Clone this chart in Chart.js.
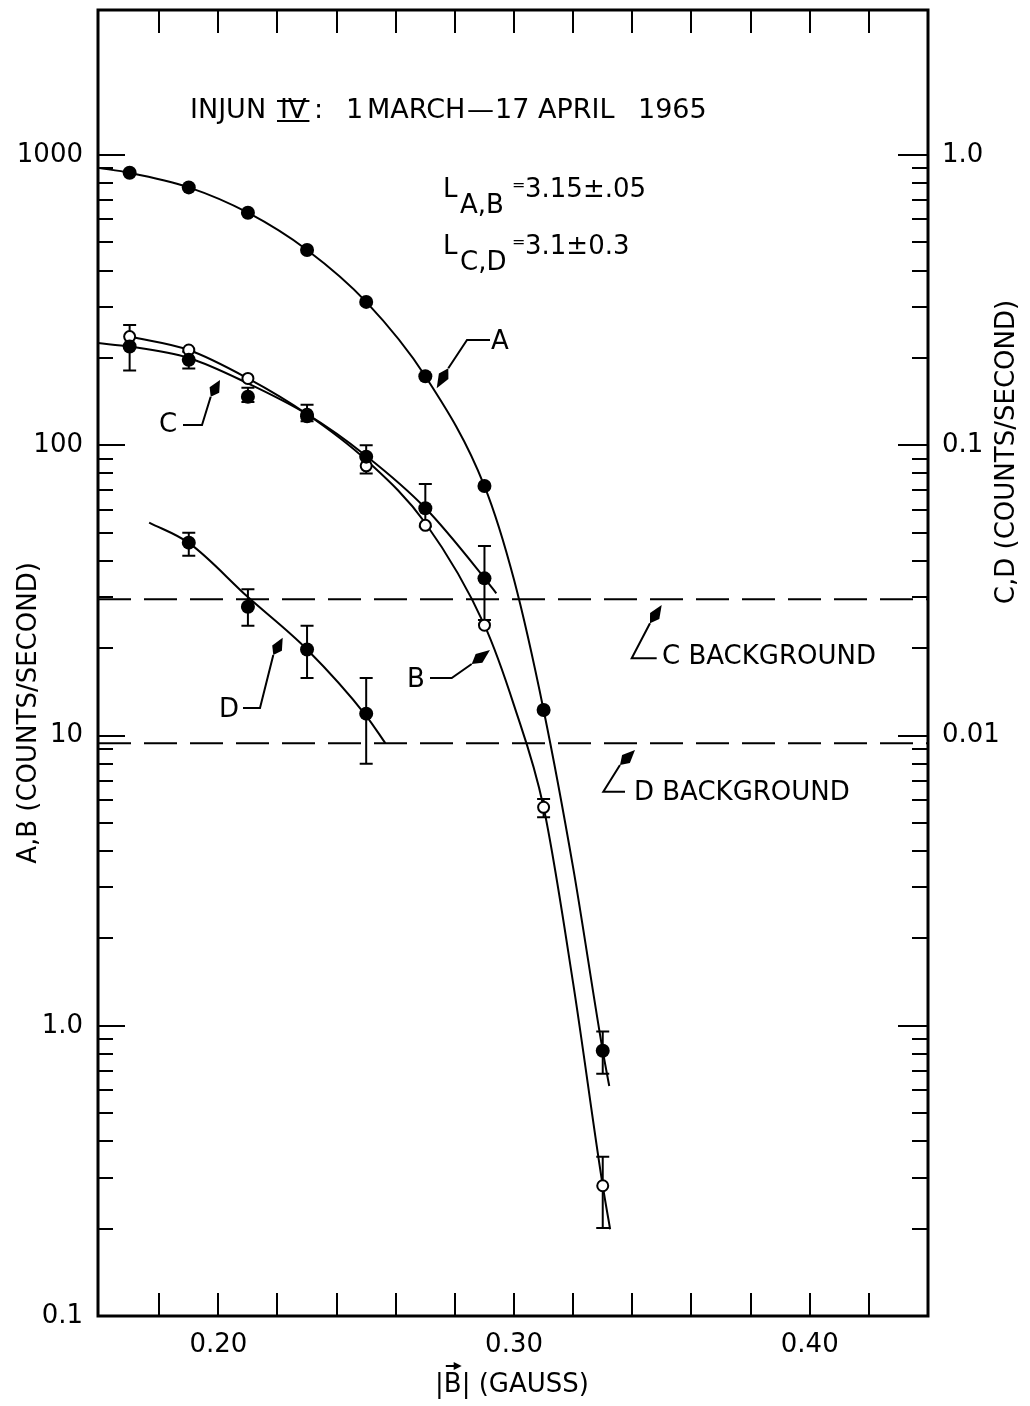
<!DOCTYPE html>
<html>
<head>
<meta charset="utf-8">
<script src="https://cdn.jsdelivr.net/npm/chart.js@4.4.1/dist/chart.umd.min.js"></script>
<style>
  html, body { margin: 0; padding: 0; background: #fff; }
  #wrap { width: 1030px; height: 1406px; }
</style>
</head>
<body>
<div id="wrap"><canvas id="chart" width="1030" height="1406"></canvas></div>
<script>
// |B| (gauss) of the measured points
const bField = [0.17, 0.19, 0.21, 0.23, 0.25, 0.27, 0.29, 0.31, 0.33];
const countsA = [869, 774, 633, 471, 312, 173, 72.4, 12.25, 0.82];
const countsB = [237, 213, 170, 128, 85, 53, 24.0, 5.66, 0.281];
const errLowA = [null, null, null, null, null, null, null, null, 0.683];
const errHighA = [null, null, null, null, null, null, null, null, 0.955];
const errLowB = [null, null, null, null, null, null, null, 5.23, 0.201];
const errHighB = [null, null, null, null, null, null, null, 6.04, 0.354];

// C and D are on the right hand scale
const bFieldC = [0.17, 0.19, 0.21, 0.23, 0.25, 0.27, 0.29];
const rateC = [0.219, 0.197, 0.147, 0.126, 0.0914, 0.0607, 0.0348];
const errLowC = [0.181, 0.184, 0.141, 0.121, 0.080, 0.0525, 0.025];
const errHighC = [0.260, 0.210, 0.158, 0.138, 0.100, 0.0736, 0.045];
const bFieldD = [0.19, 0.21, 0.23, 0.25];
const rateD = [0.0462, 0.0278, 0.0198, 0.0119];
const errLowD = [0.0416, 0.0239, 0.0158, 0.0080];
const errHighD = [0.050, 0.0319, 0.0239, 0.0158];

// hand drawn fitted curves
const fitAx = [0.1593, 0.17, 0.19, 0.21, 0.23, 0.25, 0.27, 0.29, 0.30, 0.31, 0.32, 0.33, 0.3322];
const fitAy = [904, 869, 774, 633, 471, 312, 173, 72.4, 34.4, 12.25, 3.5, 0.82, 0.62];
const fitBx = [0.17, 0.19, 0.21, 0.23, 0.25, 0.27, 0.29, 0.30, 0.31, 0.32, 0.33, 0.3325];
const fitBy = [237, 213, 170, 128, 89, 54, 24.0, 12.7, 5.66, 1.4, 0.281, 0.199];
const fitCx = [0.1593, 0.17, 0.19, 0.21, 0.23, 0.25, 0.27, 0.29, 0.294];
const fitCy = [0.225, 0.219, 0.200, 0.1635, 0.128, 0.0919, 0.0608, 0.0349, 0.0309];
const fitDx = [0.1766, 0.19, 0.21, 0.23, 0.25, 0.2565];
const fitDy = [0.0542, 0.0461, 0.030, 0.0198, 0.0117, 0.0094];

// background levels (right scale)
const cBackground = 0.0295;
const dBackground = 0.0094;

// axes
const xMin = 0.1593, xMax = 0.44;
const xTicks = [0.18, 0.20, 0.22, 0.24, 0.26, 0.28, 0.30, 0.32, 0.34, 0.36, 0.38, 0.40, 0.42];
const xLabels = [0.20, 0.30, 0.40];
const leftMajor = [0.1, 1, 10, 100, 1000];
const leftMinor = [0.2, 0.3, 0.4, 0.5, 0.6, 0.7, 0.8, 0.9, 2, 3, 4, 5, 6, 7, 8, 9,
  20, 30, 40, 50, 60, 70, 80, 90, 200, 300, 400, 500, 600, 700, 800, 900];
const rightMajor = [0.001, 0.01, 0.1, 1];
const rightLabels = [0.01, 0.1, 1];
const rightMinor = [0.0002, 0.0003, 0.0004, 0.0005, 0.0006, 0.0007, 0.0008, 0.0009,
  0.002, 0.003, 0.004, 0.005, 0.006, 0.007, 0.008, 0.009,
  0.02, 0.03, 0.04, 0.05, 0.06, 0.07, 0.08, 0.09,
  0.2, 0.3, 0.4, 0.5, 0.6, 0.7, 0.8, 0.9];

const FAMILY = '"DejaVu Sans", "Liberation Sans", sans-serif';
const near = (a, b) => Math.abs(a - b) < 1e-9 * Math.max(1, Math.abs(b));
const pairs = (xs, ys) => xs.map((x, i) => ({ x: x, y: ys[i] }));

function fitLine(xs, ys, axis) {
    return {
        data: pairs(xs, ys), yAxisID: axis, showLine: true, pointRadius: 0,
        borderColor: '#000', borderWidth: 2, cubicInterpolationMode: 'monotone', order: 2
    };
}

function bgLine(level) {
    return {
        data: [{ x: xMin, y: level }, { x: xMax, y: level }], yAxisID: 'y2', showLine: true,
        pointRadius: 0, borderColor: '#000', borderWidth: 2, borderDash: [33, 13], order: 3
    };
}

// frame and inward tick marks
const frameTicks = {
    id: 'frameTicks',
    beforeDatasetsDraw(chart) {
        const { ctx, chartArea: a, scales } = chart;
        ctx.save();
        ctx.strokeStyle = '#000';
        ctx.lineWidth = 2;
        ctx.beginPath();
        xTicks.forEach(v => {
            const px = Math.round(scales.x.getPixelForValue(v));
            ctx.moveTo(px, a.bottom); ctx.lineTo(px, a.bottom - 23);
            ctx.moveTo(px, a.top); ctx.lineTo(px, a.top + 23);
        });
        leftMinor.forEach(v => {
            const py = Math.round(scales.y.getPixelForValue(v));
            ctx.moveTo(a.left, py); ctx.lineTo(a.left + 15, py);
        });
        leftMajor.forEach(v => {
            const py = Math.round(scales.y.getPixelForValue(v));
            ctx.moveTo(a.left, py); ctx.lineTo(a.left + 27, py);
        });
        rightMinor.forEach(v => {
            const py = Math.round(scales.y2.getPixelForValue(v));
            ctx.moveTo(a.right, py); ctx.lineTo(a.right - 16, py);
        });
        rightMajor.forEach(v => {
            const py = Math.round(scales.y2.getPixelForValue(v));
            ctx.moveTo(a.right, py); ctx.lineTo(a.right - 30, py);
        });
        ctx.stroke();
        ctx.lineWidth = 3;
        ctx.strokeRect(a.left, a.top, a.right - a.left, a.bottom - a.top);
        ctx.restore();
    }
};

// vertical error bars with caps
const errorBars = {
    id: 'errorBars',
    beforeDatasetsDraw(chart) {
        const { ctx, scales } = chart;
        const sets = [
            [bField, errLowA, errHighA, 'y'],
            [bField, errLowB, errHighB, 'y'],
            [bFieldC, errLowC, errHighC, 'y2'],
            [bFieldD, errLowD, errHighD, 'y2']
        ];
        ctx.save();
        ctx.strokeStyle = '#000';
        ctx.lineWidth = 2;
        ctx.beginPath();
        sets.forEach(([xs, lo, hi, axis]) => {
            xs.forEach((x, i) => {
                if (lo[i] == null) return;
                const px = scales.x.getPixelForValue(x);
                const y1 = scales[axis].getPixelForValue(lo[i]);
                const y2 = scales[axis].getPixelForValue(hi[i]);
                ctx.moveTo(px, y1); ctx.lineTo(px, y2);
                ctx.moveTo(px - 6.5, y1); ctx.lineTo(px + 6.5, y1);
                ctx.moveTo(px - 6.5, y2); ctx.lineTo(px + 6.5, y2);
            });
        });
        ctx.stroke();
        ctx.restore();
    }
};

function arrowHead(ctx, bx, by, tx, ty) {
    const len = Math.hypot(tx - bx, ty - by);
    const dx = (tx - bx) / len, dy = (ty - by) / len;
    const mx = bx + dx * len * 0.4, my = by + dy * len * 0.4;
    ctx.beginPath();
    ctx.moveTo(bx, by);
    ctx.lineTo(mx - dy * 5.5, my + dx * 5.5);
    ctx.lineTo(tx, ty);
    ctx.lineTo(mx + dy * 5.5, my - dx * 5.5);
    ctx.closePath();
    ctx.fill();
}

function leader(ctx, pts, tip) {
    ctx.beginPath();
    ctx.moveTo(pts[0][0], pts[0][1]);
    pts.slice(1).forEach(p => ctx.lineTo(p[0], p[1]));
    ctx.stroke();
    const b = pts[pts.length - 1];
    arrowHead(ctx, b[0], b[1], tip[0], tip[1]);
}

// title, curve labels, axis titles
const annotate = {
    id: 'annotate',
    afterDraw(chart) {
        const ctx = chart.ctx;
        ctx.save();
        ctx.fillStyle = '#000';
        ctx.strokeStyle = '#000';
        ctx.lineWidth = 2;
        ctx.textBaseline = 'middle';
        ctx.textAlign = 'left';

        // title, spaced like the lettering guide
        ctx.font = '27px ' + FAMILY;
        [['INJUN', 190], ['IV', 280], [':', 314], ['1', 346], ['MARCH', 367],
         ['\u2014', 467], ['17', 495], ['APRIL', 538], ['1965', 638]].forEach(([s, px]) => ctx.fillText(s, px, 111));
        const wIV = ctx.measureText('IV').width;
        ctx.beginPath();
        ctx.moveTo(277, 101); ctx.lineTo(283 + wIV, 101);
        ctx.moveTo(277, 121); ctx.lineTo(283 + wIV, 121);
        ctx.stroke();

        // L values
        ctx.font = '26px ' + FAMILY;
        ctx.fillText('L', 443, 190);
        ctx.fillText('A,B', 460, 206);
        ctx.fillText('L', 443, 247);
        ctx.fillText('C,D', 460, 263);
        ctx.font = '16px ' + FAMILY;
        ctx.fillText('=', 512, 186);
        ctx.fillText('=', 512, 243);
        ctx.font = '26px ' + FAMILY;
        ctx.fillText('3.15\u00b1.05', 525, 190);
        ctx.fillText('3.1\u00b10.3', 525, 247);

        // curve labels
        ctx.textAlign = 'center';
        ctx.fillText('A', 500, 342);
        ctx.fillText('C', 168, 425);
        ctx.fillText('B', 416, 680);
        ctx.fillText('D', 229, 710);
        leader(ctx, [[490, 340], [467, 340], [448.3, 368.3]], [436.7, 388.3]);
        leader(ctx, [[183, 425], [202, 425], [210.7, 396.7]], [220, 380]);
        leader(ctx, [[430, 678], [451.7, 678], [471.7, 664]], [490, 650]);
        leader(ctx, [[243, 708], [260, 708], [273.3, 655]], [282.7, 637.7]);

        // background labels
        ctx.textAlign = 'left';
        ctx.fillText('C BACKGROUND', 662, 657);
        ctx.fillText('D BACKGROUND', 634, 793);
        leader(ctx, [[656.7, 658.3], [631.7, 658.3], [650, 623.3]], [661.7, 605]);
        leader(ctx, [[625, 791.7], [603.3, 791.7], [620, 765]], [635, 750]);

        // y axis titles, reading upwards
        ctx.textAlign = 'center';
        [['A,B (COUNTS/SECOND)', 29, 713], ['C,D (COUNTS/SECOND)', 1007, 452]].forEach(([s, cx, cy]) => {
            ctx.save();
            ctx.translate(cx, cy);
            ctx.rotate(-Math.PI / 2);
            ctx.fillText(s, 0, 0);
            ctx.restore();
        });

        // x axis title |B| (GAUSS) with vector arrow
        ctx.textAlign = 'left';
        const parts = ['|', 'B', '|', ' (GAUSS)'];
        const widths = parts.map(p => ctx.measureText(p).width);
        let tx = 512 - widths.reduce((s, w) => s + w, 0) / 2;
        parts.forEach((p, i) => {
            ctx.fillText(p, tx, 1385);
            if (p === 'B') {
                ctx.beginPath();
                ctx.moveTo(tx + 2, 1366); ctx.lineTo(tx + widths[i] - 3, 1366);
                ctx.stroke();
                ctx.beginPath();
                ctx.moveTo(tx + widths[i], 1366);
                ctx.lineTo(tx + widths[i] - 8, 1362);
                ctx.lineTo(tx + widths[i] - 8, 1370);
                ctx.closePath();
                ctx.fill();
            }
            tx += widths[i];
        });
        ctx.restore();
    }
};

// drop the half-label padding Chart.js adds above and below the value axes
function fixWidth(w) {
    return s => { s.width = w; s.paddingTop = 0; s.paddingBottom = 0; };
}

const chart = new Chart(document.getElementById('chart'), {
    type: 'scatter',
    data: {
        datasets: [
            { data: pairs(bField, countsA), yAxisID: 'y', pointRadius: 7, pointBackgroundColor: '#000', pointBorderWidth: 0, order: 0 },
            { data: pairs(bFieldC, rateC), yAxisID: 'y2', pointRadius: 7, pointBackgroundColor: '#000', pointBorderWidth: 0, order: 0 },
            { data: pairs(bFieldD, rateD), yAxisID: 'y2', pointRadius: 7, pointBackgroundColor: '#000', pointBorderWidth: 0, order: 0 },
            { data: pairs(bField, countsB), yAxisID: 'y', pointRadius: 5.5, pointBackgroundColor: '#fff', pointBorderColor: '#000', pointBorderWidth: 2, order: 1 },
            fitLine(fitAx, fitAy, 'y'),
            fitLine(fitBx, fitBy, 'y'),
            fitLine(fitCx, fitCy, 'y2'),
            fitLine(fitDx, fitDy, 'y2'),
            bgLine(cBackground),
            bgLine(dBackground)
        ]
    },
    options: {
        responsive: false,
        animation: false,
        devicePixelRatio: 1,
        layout: { padding: { top: 10, left: 0, right: 0, bottom: 0 } },
        plugins: { legend: { display: false }, tooltip: { enabled: false } },
        scales: {
            x: {
                type: 'linear', position: 'bottom', min: xMin, max: xMax,
                grid: { display: false, drawTicks: false }, border: { display: false },
                afterBuildTicks: s => { s.ticks = xTicks.map(v => ({ value: v })); },
                afterFit: s => { s.height = 90; s.paddingLeft = 0; s.paddingRight = 0; },
                ticks: {
                    autoSkip: false, maxRotation: 0, padding: 14, color: '#000',
                    font: { family: FAMILY, size: 26 },
                    callback: v => xLabels.some(l => near(v, l)) ? v.toFixed(2) : ''
                }
            },
            y: {
                type: 'logarithmic', position: 'left', min: 0.1, max: 3162,
                grid: { display: false, drawTicks: false }, border: { display: false },
                afterBuildTicks: s => { s.ticks = leftMajor.map(v => ({ value: v })); },
                afterFit: fixWidth(98),
                ticks: {
                    autoSkip: false, padding: 15, color: '#000',
                    font: { family: FAMILY, size: 26 },
                    callback: v => v >= 10 ? String(v) : v.toFixed(1)
                }
            },
            y2: {
                type: 'logarithmic', position: 'right', min: 0.0001, max: 3.162,
                grid: { display: false, drawTicks: false }, border: { display: false },
                afterBuildTicks: s => { s.ticks = rightMajor.map(v => ({ value: v })); },
                afterFit: fixWidth(102),
                ticks: {
                    autoSkip: false, padding: 14, color: '#000',
                    font: { family: FAMILY, size: 26 },
                    callback: v => rightLabels.some(l => near(v, l)) ? (near(v, 1) ? '1.0' : String(v)) : ''
                }
            }
        }
    },
    plugins: [frameTicks, errorBars, annotate]
});
</script>
</body>
</html>
